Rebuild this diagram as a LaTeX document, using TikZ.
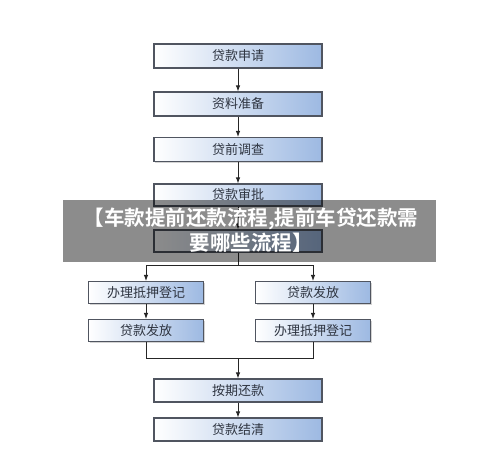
\documentclass[tikz,border=0pt]{standalone}
\usepackage{fontspec}
\newfontfamily\cjk{Noto Sans CJK SC}
\newfontfamily\cjkb{Noto Sans CJK SC Bold}
\usetikzlibrary{arrows.meta,shadows}
\definecolor{boxblue}{HTML}{9DB9E2}
\definecolor{boxline}{HTML}{505560}
\definecolor{boxtext}{HTML}{2E3440}
\tikzset{
  flowbox/.style={draw=boxline, line width=1.1pt, left color=white, right color=boxblue,
    shading angle=90, minimum height=24pt, inner sep=0pt, font=\cjk\fontsize{13}{15}\selectfont,
    text=boxtext, drop shadow={shadow xshift=1.2pt, shadow yshift=-1.2pt, opacity=0.35}},
  mainbox/.style={flowbox, minimum width=168pt},
  sidebox/.style={flowbox, minimum width=115pt, minimum height=22pt},
  conn/.style={draw=black!85, line width=0.9pt},
  arr/.style={conn, -{Latex[length=6pt,width=4.5pt]}},
}
\begin{document}
\begin{tikzpicture}[x=1pt,y=-1pt]
\useasboundingbox (0,0) rectangle (500,463);
\node[mainbox] (b1) at (238,56) {贷款申请};
\node[mainbox] (b2) at (238,104) {资料准备};
\node[mainbox] (b3) at (238,149.5) {贷前调查};
\node[mainbox, minimum height=22pt] (b4) at (238,195) {贷款审批};
\node[mainbox, minimum height=22pt] (b5) at (238,241) {};
\node[sidebox] (l1) at (146,292.5) {办理抵押登记};
\node[sidebox] (r1) at (313,292.5) {贷款发放};
\node[sidebox] (l2) at (146,330.5) {贷款发放};
\node[sidebox] (r2) at (313,330.5) {办理抵押登记};
\node[mainbox, minimum height=23pt] (b6) at (238,390.5) {按期还款};
\node[mainbox, minimum height=23pt] (b7) at (238,429.5) {贷款结清};
\draw[arr] (b1) -- (b2);
\draw[arr] (b2) -- (b3);
\draw[arr] (b3) -- (b4);
\draw[arr] (b4) -- (b5);
\coordinate (split) at (238,265);
\coordinate (merge) at (238,358);
\draw[conn] (b5.south) -- (split);
\draw[arr] (split) -| (l1.north);
\draw[arr] (split) -| (r1.north);
\draw[arr] (l1) -- (l2);
\draw[arr] (r1) -- (r2);
\draw[conn] (l2.south) |- (merge);
\draw[conn] (r2.south) |- (merge);
\draw[arr] (merge) -- (b6);
\draw[arr] (b6) -- (b7);
% banner
\fill[black, opacity=0.45] (63,200) rectangle (436,262);
\node[text=white, font=\cjkb\fontsize{20.5}{25}\selectfont, align=center, inner sep=0pt] (banner) at (251,230) {【车款提前还款流程,提前车贷还款需\\要哪些流程】};
\end{tikzpicture}
\end{document}
